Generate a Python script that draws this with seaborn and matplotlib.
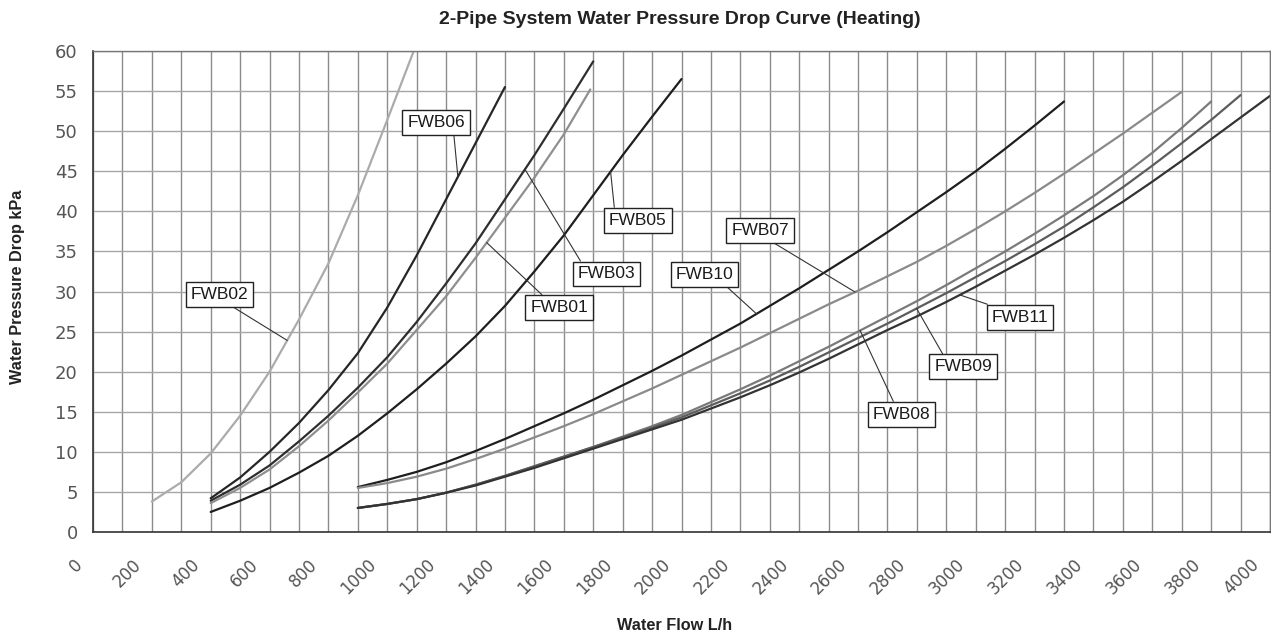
import numpy as np
import pandas as pd
import matplotlib
matplotlib.use("Agg")
import matplotlib.pyplot as plt
import matplotlib.transforms as mtransforms
import seaborn as sns

# Water flow (L/h) and pressure drop (kPa)
fwb02_flow = [200, 300, 400, 500, 600, 700, 800, 900, 1000, 1090]
fwb02_drop = [3.8, 6.2, 9.8, 14.5, 20.0, 26.5, 33.5, 42.0, 51.4, 60.0]

fwb06_flow = [400, 500, 600, 700, 800, 900, 1000, 1100, 1200, 1300, 1400]
fwb06_drop = [4.2, 6.8, 10.0, 13.6, 17.7, 22.3, 28.0, 34.5, 41.5, 48.5, 55.5]

fwb03_flow = [400, 500, 600, 700, 800, 900, 1000, 1100, 1200, 1300, 1400, 1500, 1600, 1700]
fwb03_drop = [3.9, 5.9, 8.3, 11.3, 14.5, 18.0, 21.8, 26.2, 31.0, 36.0, 41.5, 47.0, 52.8, 58.7]

fwb01_flow = [400, 500, 600, 700, 800, 900, 1000, 1100, 1200, 1300, 1400, 1500, 1600, 1690]
fwb01_drop = [3.6, 5.5, 7.8, 10.7, 13.9, 17.4, 21.0, 25.2, 29.4, 34.2, 39.2, 44.2, 49.6, 55.2]

fwb05_flow = [400, 500, 600, 700, 800, 900, 1000, 1100, 1200, 1300, 1400, 1500, 1600, 1700, 1800, 1900, 2000]
fwb05_drop = [2.5, 3.9, 5.5, 7.4, 9.5, 12.0, 14.8, 17.8, 21.0, 24.4, 28.2, 32.5, 37.0, 42.0, 47.0, 51.8, 56.5]

fwb10_flow = [900, 1000, 1100, 1200, 1300, 1400, 1500, 1600, 1700, 1800, 1900, 2000, 2100, 2200,
              2300, 2400, 2500, 2600, 2700, 2800, 2900, 3000, 3100, 3200, 3300]
fwb10_drop = [5.6, 6.5, 7.5, 8.7, 10.1, 11.6, 13.2, 14.8, 16.5, 18.3, 20.1, 22.0, 24.0, 26.0,
              28.2, 30.4, 32.7, 35.0, 37.4, 39.9, 42.4, 45.0, 47.8, 50.7, 53.7]

fwb07_flow = [900, 1000, 1100, 1200, 1300, 1400, 1500, 1600, 1700, 1800, 1900, 2000, 2100, 2200,
              2300, 2400, 2500, 2600, 2700, 2800, 2900, 3000, 3100, 3200, 3300, 3400, 3500, 3600, 3700]
fwb07_drop = [5.5, 6.1, 6.9, 7.9, 9.1, 10.4, 11.8, 13.2, 14.7, 16.3, 17.9, 19.6, 21.3, 23.0,
              24.8, 26.6, 28.4, 30.1, 31.9, 33.7, 35.7, 37.8, 40.0, 42.3, 44.7, 47.2, 49.7, 52.3, 54.9]

fwb08_flow = [900, 1000, 1100, 1200, 1300, 1400, 1500, 1600, 1700, 1800, 1900, 2000, 2100, 2200,
              2300, 2400, 2500, 2600, 2700, 2800, 2900, 3000, 3100, 3200, 3300, 3400, 3500, 3600, 3700, 3800]
fwb08_drop = [3.0, 3.5, 4.1, 4.9, 5.9, 7.0, 8.2, 9.4, 10.6, 11.9, 13.2, 14.6, 16.2, 17.8,
              19.5, 21.3, 23.1, 25.0, 26.9, 28.8, 30.8, 32.9, 35.0, 37.2, 39.5, 41.9, 44.5, 47.3, 50.4, 53.7]

fwb09_flow = [900, 1000, 1100, 1200, 1300, 1400, 1500, 1600, 1700, 1800, 1900, 2000, 2100, 2200,
              2300, 2400, 2500, 2600, 2700, 2800, 2900, 3000, 3100, 3200, 3300, 3400, 3500, 3600, 3700, 3800, 3900]
fwb09_drop = [3.0, 3.5, 4.1, 4.9, 5.9, 7.0, 8.2, 9.4, 10.6, 11.8, 13.0, 14.3, 15.8, 17.3,
              18.9, 20.6, 22.4, 24.2, 26.0, 27.9, 29.8, 31.8, 33.8, 35.9, 38.1, 40.5, 43.0, 45.7, 48.5, 51.4, 54.5]

fwb11_flow = [900, 1000, 1100, 1200, 1300, 1400, 1500, 1600, 1700, 1800, 1900, 2000, 2100, 2200,
              2300, 2400, 2500, 2600, 2700, 2800, 2900, 3000, 3100, 3200, 3300, 3400, 3500, 3600, 3700, 3800, 3900, 4000]
fwb11_drop = [3.0, 3.5, 4.1, 4.9, 5.8, 6.9, 8.0, 9.2, 10.4, 11.6, 12.8, 14.0, 15.4, 16.8,
              18.3, 19.9, 21.6, 23.4, 25.2, 26.9, 28.7, 30.6, 32.6, 34.6, 36.7, 38.9, 41.2, 43.7, 46.3, 49.0, 51.7, 54.4]

x_ticks = list(range(0, 4001, 200))
y_ticks = list(range(0, 61, 5))

curves = {
    "FWB02": (fwb02_flow, fwb02_drop),
    "FWB06": (fwb06_flow, fwb06_drop),
    "FWB03": (fwb03_flow, fwb03_drop),
    "FWB01": (fwb01_flow, fwb01_drop),
    "FWB05": (fwb05_flow, fwb05_drop),
    "FWB10": (fwb10_flow, fwb10_drop),
    "FWB07": (fwb07_flow, fwb07_drop),
    "FWB08": (fwb08_flow, fwb08_drop),
    "FWB09": (fwb09_flow, fwb09_drop),
    "FWB11": (fwb11_flow, fwb11_drop),
}

# styles
colors = {
    "FWB02": "#ababab", "FWB06": "#262626", "FWB03": "#2e2e2e", "FWB01": "#8f8f8f",
    "FWB05": "#1e1e1e", "FWB10": "#1e1e1e", "FWB07": "#8a8a8a", "FWB08": "#7a7a7a",
    "FWB09": "#5c5c5c", "FWB11": "#333333",
}

# label box centre (flow, kPa), flow where the leader touches the curve, leader start on the box
labels = {
    "FWB02": ((430, 29.6), 660, (0.6, 0.0)),
    "FWB06": ((1166, 51.1), 1240, (0.8, 0.0)),
    "FWB05": ((1852, 38.9), 1759, (0.1, 1.0)),
    "FWB03": ((1746, 32.2), 1468, (0.1, 1.0)),
    "FWB01": ((1584, 28.0), 1338, (0.3, 1.0)),
    "FWB07": ((2267, 37.6), 2590, (0.6, 0.0)),
    "FWB10": ((2078, 32.1), 2255, (0.8, 0.0)),
    "FWB11": ((3151, 26.8), 2946, (0.2, 1.0)),
    "FWB09": ((2957, 20.6), 2799, (0.2, 1.0)),
    "FWB08": ((2748, 14.7), 2607, (0.4, 1.0)),
}

frames = []
for name, (fx, fy) in curves.items():
    frames.append(pd.DataFrame({"flow": fx, "drop": fy, "model": name}))
df = pd.concat(frames, ignore_index=True)

sns.set_theme(style="white")
plt.rcParams["font.family"] = ["Liberation Sans", "DejaVu Sans"]

fig = plt.figure(figsize=(12.71, 6.37), dpi=100)
ax = fig.add_axes([93 / 1271, 1 - 532 / 637, (1270 - 93) / 1271, (532 - 51) / 637])

sns.lineplot(data=df, x="flow", y="drop", hue="model", palette=colors,
             estimator=None, sort=False, linewidth=1.6, legend=False, ax=ax)

ax.set_xlim(0, 4000)
ax.set_ylim(0, 60)
ax.set_xticks(x_ticks)
ax.set_xticks(range(100, 4000, 200), minor=True)
ax.set_yticks(y_ticks)
ax.grid(which="both", axis="x", color="#8c8c8c", linewidth=1.0)
ax.grid(which="major", axis="y", color="#a6a6a6", linewidth=1.0)
ax.set_axisbelow(True)
ax.tick_params(which="both", length=0)
ax.tick_params(axis="y", pad=11, labelsize=13, labelcolor="#555555")
ax.tick_params(axis="x", pad=17, labelsize=12, labelcolor="#555555")
ax.set_xticklabels([str(t) for t in x_ticks], rotation=45, ha="right", rotation_mode="anchor",
                   family="DejaVu Sans")
ax.set_yticklabels([str(t) for t in y_ticks], family="DejaVu Sans")
shift = mtransforms.ScaledTranslation(-20 / 100, 0, fig.dpi_scale_trans)
for lbl in ax.get_xticklabels():
    lbl.set_transform(lbl.get_transform() + shift)
for side in ["left", "bottom"]:
    ax.spines[side].set_color("#333333")
    ax.spines[side].set_linewidth(1.2)
for side in ["top", "right"]:
    ax.spines[side].set_color("#777777")
    ax.spines[side].set_linewidth(1.0)

for name, (pos, tip_x, rel) in labels.items():
    fx, fy = curves[name]
    tip_y = np.interp(tip_x, fx, fy)
    ax.annotate(name, xy=(tip_x, tip_y), xytext=pos, ha="center", va="center",
                fontsize=12.5, color="#1a1a1a",
                bbox=dict(boxstyle="square,pad=0.28", fc="white", ec="#222222", lw=1.0),
                arrowprops=dict(arrowstyle="-", color="#333333", lw=0.8, relpos=rel,
                                shrinkA=0, shrinkB=0))

ax.set_xlabel("")
ax.set_ylabel("")
fig.text(680 / 1271, 1 - 19 / 637, "2-Pipe System Water Pressure Drop Curve (Heating)",
         ha="center", va="center", fontsize=14, fontweight="bold", color="#222222")
fig.text(675 / 1271, 1 - 626 / 637, "Water Flow L/h", ha="center", va="center",
         fontsize=11.7, fontweight="bold", color="#222222")
fig.text(17.5 / 1271, 1 - 287 / 637, "Water Pressure Drop kPa", ha="center", va="center",
         rotation=90, fontsize=11.7, fontweight="bold", color="#222222")

fig.savefig("out.png", dpi=100, facecolor="white")
